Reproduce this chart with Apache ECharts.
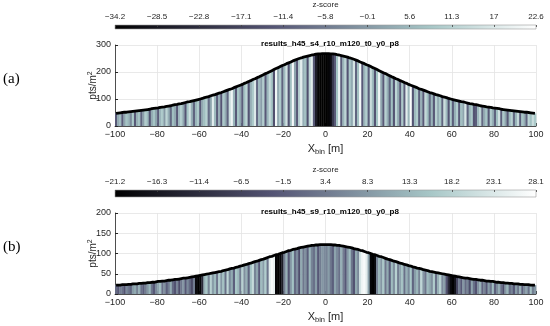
<!DOCTYPE html>
<html><head><meta charset="utf-8">
<script src="https://cdn.jsdelivr.net/npm/echarts@6/dist/echarts.min.js"></script>
<style>html,body{margin:0;padding:0;background:#fff}#c{width:550px;height:326px}</style>
</head><body><div id="c"></div>
<script>
// ---- data ----
const binStart = -100, binCount = 200; // 1 m bins, centres -99.5 .. 99.5
const xTicks = [-100, 100, 20];
const cbLabelsA = ['−34.2','−28.5','−22.8','−17.1','−11.4','−5.8','−0.1','5.6','11.3','17','22.6'];
const cbLabelsB = ['−21.2','−16.3','−11.4','−6.5','−1.5','3.4','8.3','13.3','18.2','23.1','28.1'];
const zRangeA = [-34.2, 22.6];
const zRangeB = [-21.2, 28.1];
const titleA = 'results_h45_s4_r10_m120_t0_y0_p8';
const titleB = 'results_h45_s9_r10_m120_t0_y0_p8';

const densA = [
47,48,49,50,51,51,52,53,54,55, 56,57,58,59,60,61,62,64,65,66,
67,69,70,71,73,74,75,77,79,80, 82,83,85,87,89,90,92,94,96,98,
100,102,105,107,109,112,114,116,119,122, 124,127,130,133,136,138,142,145,148,151,
154,158,161,165,168,172,175,179,182,186, 190,194,197,201,205,209,213,216,220,224,
227,231,234,237,241,244,247,250,252,255, 257,259,261,263,264,266,267,267,268,268,
268,268,267,267,266,264,263,261,259,257, 255,252,250,247,244,241,237,234,231,227,
224,220,216,213,209,205,201,197,194,190, 186,182,179,175,172,168,165,161,158,154,
151,148,145,142,138,136,133,130,127,124, 122,119,116,114,112,109,107,105,102,100,
98,96,94,92,90,89,87,85,83,82, 80,79,77,75,74,73,71,70,69,67,
66,65,64,62,61,60,59,58,57,56, 55,54,53,52,51,51,50,49,48,47
];
const zA = [
-12,3,6,-11,2,8,5,-3,9,-12,  4,7,-10,1,10,6,-13,3,8,2,
-11,5,9,0,12,4,-9,7,3,-12,  6,10,2,-13,8,15,4,-10,5,9,
-12,3,7,11,-8,2,18,6,-11,4,  -13,9,3,-10,14,20,5,-12,8,2,
-11,7,12,-13,4,9,17,-9,6,1,  10,-12,5,13,8,-14,20,3,9,-10,
6,15,-13,7,21,2,-12,11,18,4,  7,-14,12,18,-12,-27,-33,-34,-34,-34,
-34,-33,-31,-20,-12,8,19,-11,5,12,  -13,9,3,16,-10,7,21,-12,5,10,
-11,14,6,-13,8,20,2,-12,11,4,  -10,7,-13,12,3,-12,9,-11,18,5,
22,-13,6,10,-11,4,-12,13,7,-9,  5,-12,11,3,8,-10,14,6,-13,9,
-11,4,10,-12,7,2,16,-10,5,9,  -13,-11,6,12,-9,3,8,-12,10,4,
-10,7,15,-11,9,2,-12,6,11,-9,  5,13,-11,8,3,-10,12,7,14,9
];
const densB = [
22,22,22,23,23,23,24,24,25,25, 25,26,26,27,27,28,28,29,29,30,
31,31,32,32,33,34,34,35,36,36, 37,38,39,39,40,41,42,43,44,45,
46,47,48,49,50,51,52,53,54,55, 56,58,59,60,62,63,64,66,67,69,
70,72,73,75,76,78,80,81,83,85, 86,88,90,92,93,95,97,98,100,102,
103,105,107,108,110,111,112,114,115,116, 117,118,119,120,120,121,121,122,122,122,
122,122,122,121,121,120,120,119,118,117, 116,115,114,112,111,110,108,107,105,103,
102,100,98,97,95,93,92,90,88,86, 85,83,81,80,78,76,75,73,72,70,
69,67,66,64,63,62,60,59,58,56, 55,54,53,52,51,50,49,48,47,46,
45,44,43,42,41,40,39,39,38,37, 36,36,35,34,34,33,32,32,31,31,
30,29,29,28,28,27,27,26,26,25, 25,25,24,24,23,23,23,22,22,22
];
const zB = [
1,-2,4,2,-3,6,3,0,9,11,  5,12,2,-1,4,8,13,3,-2,6,
10,14,2,7,-1,4,11,1,-3,5,  -4,3,8,-2,6,1,-5,4,-19,-21,
-20,-12,12,16,5,18,9,14,3,17,  8,15,2,19,6,11,-1,16,13,4,
18,7,12,0,15,20,5,10,-2,14,  9,17,3,24,27,25,-20,-21,-20,-15,
4,12,-3,8,15,1,6,-4,11,3,  7,-1,13,5,2,9,-2,4,8,6,
5,9,3,-1,10,6,2,12,4,-2,  8,14,3,-3,11,6,22,26,27,24,
10,-20,-21,-19,5,13,8,16,3,11,  -1,14,7,18,4,10,15,2,12,6,
16,0,9,13,5,19,8,3,14,11,  7,17,2,12,18,6,9,-3,-12,-19,
-21,-17,-6,4,-2,8,1,5,-4,10,  2,-3,7,12,0,5,-2,9,3,14,
-1,6,11,2,-4,8,13,1,5,-2,  9,3,12,-1,6,10,2,15,4,8
];
// MATLAB "bone" colormap sampled at 1/8 steps
const bone = ['#000000','#1c1c27','#38384d','#545474','#707a8f','#8ba1ab','#a7c7c7','#d3e3e3','#ffffff'];

// ---- build ----
const centres = [];
for (let i = 0; i < binCount; i++) centres.push(binStart + i + 0.5);
const rowsA = centres.map((x, i) => [x, densA[i], zA[i]]);
const rowsB = centres.map((x, i) => [x, densB[i], zB[i]]);

const txt = '#262626', gridCol = '#e3e3e3', font = 'Liberation Sans';
const minus = v => (v < 0 ? '−' + Math.abs(v) : String(v));

const gradient = new echarts.graphic.LinearGradient(0, 0, 1, 0,
  bone.map((c, i) => ({offset: i / (bone.length - 1), color: c})));

function barItem(params, api) {
  const x = api.value(0), h = api.value(1);
  const p0 = api.coord([x - 0.5, 0]);
  const p1 = api.coord([x + 0.5, h]);
  return {type: 'rect', shape: {x: p0[0], y: p1[1], width: p1[0] - p0[0] + 0.35, height: p0[1] - p1[1]},
          style: {fill: api.visual('color')}};
}

function cbX(gi, labels) {
  return {gridIndex: gi, type: 'value', min: 0, max: 10, interval: 1, position: 'top',
    axisLine: {show: false, onZero: false}, splitLine: {show: false},
    axisTick: {inside: true, length: 2, lineStyle: {color: '#444', width: 0.8}},
    axisLabel: {formatter: v => labels[v], fontSize: 8, color: txt, margin: 4, fontFamily: font,
                showMinLabel: true, showMaxLabel: true},
    name: 'z-score', nameLocation: 'middle', nameGap: 16, nameMoveOverlap: false,
    nameTextStyle: {fontSize: 8, color: txt, fontFamily: font}};
}
function mainX(gi) {
  return {gridIndex: gi, type: 'value', min: xTicks[0], max: xTicks[1], interval: xTicks[2],
    axisLine: {onZero: false, lineStyle: {color: txt, width: 0.8}},
    axisTick: {inside: true, length: 3, lineStyle: {color: txt}},
    axisLabel: {formatter: minus, fontSize: 9, color: txt, margin: 4, fontFamily: font},
    splitLine: {show: true, lineStyle: {color: gridCol, width: 0.8}},
    name: 'X{s|bin} [m]', nameLocation: 'middle', nameGap: 15, nameMoveOverlap: false,
    nameTextStyle: {fontSize: 11, color: txt, fontFamily: font,
      rich: {s: {fontSize: 7.5, color: txt, fontFamily: font, padding: [7, 0, 0, 0]}}}};
}
function mainY(gi, max, interval) {
  return {gridIndex: gi, type: 'value', min: 0, max: max, interval: interval,
    axisLine: {show: true, onZero: false, lineStyle: {color: txt, width: 0.8}},
    axisTick: {show: true, inside: true, length: 3, lineStyle: {color: txt}},
    axisLabel: {fontSize: 9, color: txt, margin: 4, fontFamily: font},
    splitLine: {show: true, lineStyle: {color: gridCol, width: 0.8}},
    name: 'pts/m{p|2}', nameLocation: 'middle', nameGap: 15, nameMoveOverlap: false,
    nameTextStyle: {fontSize: 10, color: txt, fontFamily: font,
      rich: {p: {fontSize: 7, color: txt, fontFamily: font, padding: [0, 0, 6, 0]}}}};
}

const chart = echarts.init(document.getElementById('c'), null, {renderer: 'canvas'});
chart.setOption({
  backgroundColor: '#fff',
  animation: false,
  title: [
    {text: titleA, left: 325, top: 35, textAlign: 'center',
     textStyle: {fontSize: 8, fontWeight: 'bold', color: '#000', fontFamily: font}},
    {text: titleB, left: 325, top: 203, textAlign: 'center',
     textStyle: {fontSize: 8, fontWeight: 'bold', color: '#000', fontFamily: font}}
  ],
  grid: [
    {left: 115, right: 14, top: 22, height: 7, show: true, backgroundColor: gradient, borderColor: '#9a9a9a', borderWidth: 0.6},
    {left: 115, right: 14, top: 45, height: 81},
    {left: 115, right: 14, top: 190, height: 7, show: true, backgroundColor: gradient, borderColor: '#9a9a9a', borderWidth: 0.6},
    {left: 115, right: 14, top: 213, height: 81}
  ],
  xAxis: [cbX(0, cbLabelsA), mainX(1), cbX(2, cbLabelsB), mainX(3)],
  yAxis: [
    {gridIndex: 0, show: false, min: 0, max: 1},
    mainY(1, 300, 100),
    {gridIndex: 2, show: false, min: 0, max: 1},
    mainY(3, 200, 50)
  ],
  visualMap: [
    {show: false, type: 'continuous', seriesIndex: 0, dimension: 2, min: zRangeA[0], max: zRangeA[1], inRange: {color: bone}},
    {show: false, type: 'continuous', seriesIndex: 2, dimension: 2, min: zRangeB[0], max: zRangeB[1], inRange: {color: bone}}
  ],
  series: [
    {type: 'custom', xAxisIndex: 1, yAxisIndex: 1, data: rowsA, encode: {x: 0, y: 1}, renderItem: barItem, z: 2},
    {type: 'line', xAxisIndex: 1, yAxisIndex: 1, data: rowsA.map(r => [r[0], r[1]]), showSymbol: false,
     lineStyle: {color: '#000', width: 2.8}, z: 3, silent: true},
    {type: 'custom', xAxisIndex: 3, yAxisIndex: 3, data: rowsB, encode: {x: 0, y: 1}, renderItem: barItem, z: 2},
    {type: 'line', xAxisIndex: 3, yAxisIndex: 3, data: rowsB.map(r => [r[0], r[1]]), showSymbol: false,
     lineStyle: {color: '#000', width: 2.8}, z: 3, silent: true}
  ],
  graphic: [
    {type: 'text', left: 3, top: 72, style: {text: '(a)', fontSize: 15, fontFamily: 'Liberation Serif', fill: '#000'}},
    {type: 'text', left: 3, top: 240, style: {text: '(b)', fontSize: 15, fontFamily: 'Liberation Serif', fill: '#000'}}
  ]
});
</script>
</body></html>
